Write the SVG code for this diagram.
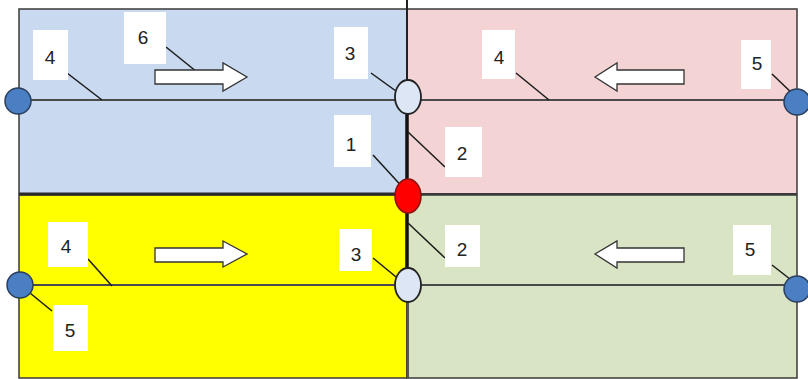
<svg xmlns="http://www.w3.org/2000/svg" width="808" height="379" viewBox="0 0 808 379">
<style>
.panel{stroke:#3a3a3a;stroke-width:1.5}
.axis{stroke:#4a4a4a;stroke-width:2;fill:none}
.lead{stroke:#1a1a1a;stroke-width:1.5;fill:none}
.box{fill:#ffffff}
.num{font-family:"Liberation Sans",Arial,sans-serif;font-size:19px;fill:#222;text-anchor:middle}
.end{fill:#4a7fc4;stroke:#2b3f5c;stroke-width:1.5}
.joint{fill:#dde6f4;stroke:#222;stroke-width:1.8}
.arrow{fill:#ffffff;stroke:#333;stroke-width:1.3}
</style>
<rect width="808" height="379" fill="#ffffff"/>
<g id="panels">
<rect id="panel-tl" class="panel" x="19" y="9" width="388" height="185" fill="#c9d9ef"/>
<rect id="panel-tr" class="panel" x="407" y="9" width="390" height="185" fill="#f3d3d4"/>
<rect id="panel-bl" class="panel" x="19" y="195" width="388" height="183" fill="#ffff00"/>
<rect id="panel-br" class="panel" x="407" y="195" width="390" height="183" fill="#d8e4c3"/>
<line x1="19" y1="194" x2="407" y2="194" stroke="#2a2a2a" stroke-width="3"/>
<line x1="407" y1="194" x2="797" y2="194" stroke="#3a3a3a" stroke-width="2"/>
</g>
<g id="connectors">
<line class="axis" x1="18" y1="100" x2="797" y2="100"/>
<line class="axis" x1="20" y1="285" x2="797" y2="285" stroke="#777" stroke-width="3"/>
<line x1="407" y1="0" x2="407" y2="82" stroke="#222" stroke-width="2"/>
<line x1="407" y1="114" x2="407" y2="270" stroke="#111" stroke-width="3.5"/>
<line x1="408" y1="302" x2="408" y2="379" stroke="#555" stroke-width="2"/>
<line class="lead" x1="166" y1="47" x2="197" y2="72"/>
<line class="lead" x1="67" y1="73" x2="102" y2="100"/>
<line class="lead" x1="371" y1="73" x2="407" y2="99"/>
<line class="lead" x1="373" y1="155" x2="407" y2="192"/>
<line class="lead" x1="408" y1="132" x2="445" y2="167"/>
<line class="lead" x1="516" y1="73" x2="549" y2="100"/>
<line class="lead" x1="772" y1="74" x2="796" y2="97"/>
<line class="lead" x1="88" y1="259" x2="112" y2="286"/>
<line class="lead" x1="52" y1="311" x2="30" y2="293"/>
<line class="lead" x1="373" y1="258" x2="407" y2="286"/>
<line class="lead" x1="408" y1="223" x2="445" y2="258"/>
<line class="lead" x1="772" y1="265" x2="795" y2="283"/>
</g>
<g id="arrows">
<polygon id="arrow-tl" class="arrow" points="155,70 223,70 223,63 247,77 223,91 223,84 155,84"/>
<polygon id="arrow-tr" class="arrow" points="684,70 617,70 617,63 595,77 617,91 617,84 684,84"/>
<polygon id="arrow-bl" class="arrow" points="155,248 223,248 223,241 247,254 223,267 223,262 155,262"/>
<polygon id="arrow-br" class="arrow" points="684,248 617,248 617,241 595,254 617,268 617,262 684,262"/>
</g>
<g id="node-end-tl"><circle class="end" cx="18" cy="101" r="13"/></g>
<g id="node-end-tr"><circle class="end" cx="797" cy="102" r="13"/></g>
<g id="node-end-bl"><circle class="end" cx="20" cy="285" r="13"/></g>
<g id="node-end-br"><circle class="end" cx="797" cy="289" r="13"/></g>
<g id="node-joint-top"><ellipse class="joint" cx="408" cy="97" rx="13" ry="17"/></g>
<g id="node-joint-bottom"><ellipse class="joint" cx="408" cy="285" rx="13" ry="17"/></g>
<g id="node-red"><ellipse cx="408" cy="196" rx="13" ry="17" fill="#ff0000" stroke="#8a1010" stroke-width="1.5"/></g>
<g id="label-6"><rect class="box" x="124" y="12" width="42" height="52"/><text class="num" x="143" y="44">6</text></g>
<g id="label-4-tl"><rect class="box" x="33" y="30" width="35" height="50"/><text class="num" x="50" y="64">4</text></g>
<g id="label-3-top"><rect class="box" x="334" y="27" width="34" height="52"/><text class="num" x="350" y="60">3</text></g>
<g id="label-1"><rect class="box" x="334" y="115" width="37" height="52"/><text class="num" x="351" y="151">1</text></g>
<g id="label-2-top"><rect class="box" x="445" y="127" width="37" height="50"/><text class="num" x="462" y="160">2</text></g>
<g id="label-4-tr"><rect class="box" x="482" y="30" width="33" height="49"/><text class="num" x="499" y="64">4</text></g>
<g id="label-5-tr"><rect class="box" x="741" y="40" width="30" height="49"/><text class="num" x="757" y="70">5</text></g>
<g id="label-4-bl"><rect class="box" x="48" y="222" width="40" height="45"/><text class="num" x="66" y="253">4</text></g>
<g id="label-5-bl"><rect class="box" x="53" y="305" width="35" height="46"/><text class="num" x="70" y="337">5</text></g>
<g id="label-3-bottom"><rect class="box" x="339" y="229" width="33" height="42"/><text class="num" x="356" y="261">3</text></g>
<g id="label-2-bottom"><rect class="box" x="445" y="225" width="35" height="42"/><text class="num" x="462" y="256">2</text></g>
<g id="label-5-br"><rect class="box" x="733" y="225" width="38" height="50"/><text class="num" x="750" y="256">5</text></g>
</svg>
